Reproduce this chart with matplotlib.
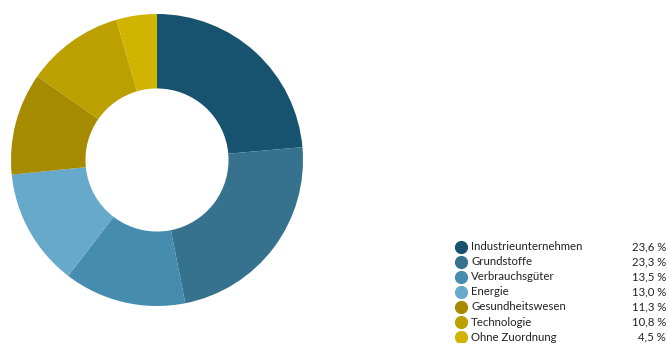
import matplotlib
matplotlib.use("Agg")
import matplotlib.pyplot as plt
from matplotlib.lines import Line2D

labels = ["Industrieunternehmen", "Grundstoffe", "Verbrauchsgüter", "Energie",
          "Gesundheitswesen", "Technologie", "Ohne Zuordnung"]
values = [23.6, 23.3, 13.5, 13.0, 11.3, 10.8, 4.5]
colors = ["#17526F", "#36728E", "#458CAF", "#67A9CA", "#A68B00", "#BBA000", "#D0B400"]

plt.rcParams["font.family"] = ["Lato", "DejaVu Sans"]

W, H = 669, 343
fig = plt.figure(figsize=(W / 100, H / 100), dpi=100, facecolor="white")

# donut
cx, cy, r = 157, 160, 146
ax = fig.add_axes([(cx - r) / W, (H - cy - r) / H, 2 * r / W, 2 * r / H])
ax.pie(values, colors=colors, startangle=90, counterclock=False, radius=1,
       wedgeprops=dict(width=0.51, edgecolor="none"))
ax.set_xlim(-1, 1)
ax.set_ylim(-1, 1)
ax.set_aspect("equal")
ax.axis("off")

# legend
y0, dy = 246.5, 15.1
for i, (lab, val, col) in enumerate(zip(labels, values, colors)):
    y = 1 - (y0 + i * dy) / H
    fig.add_artist(Line2D([461 / W], [y], marker="o", markersize=8.5,
                          color=col, linestyle="none", transform=fig.transFigure))
    fig.text(471 / W, y, lab, fontsize=8.2, color="#222222", va="center", ha="left")
    fig.text(666 / W, y, f"{val:.1f} %".replace(".", ","), fontsize=8.2,
             color="#222222", va="center", ha="right")

fig.savefig("out.png", dpi=100, facecolor="white")
